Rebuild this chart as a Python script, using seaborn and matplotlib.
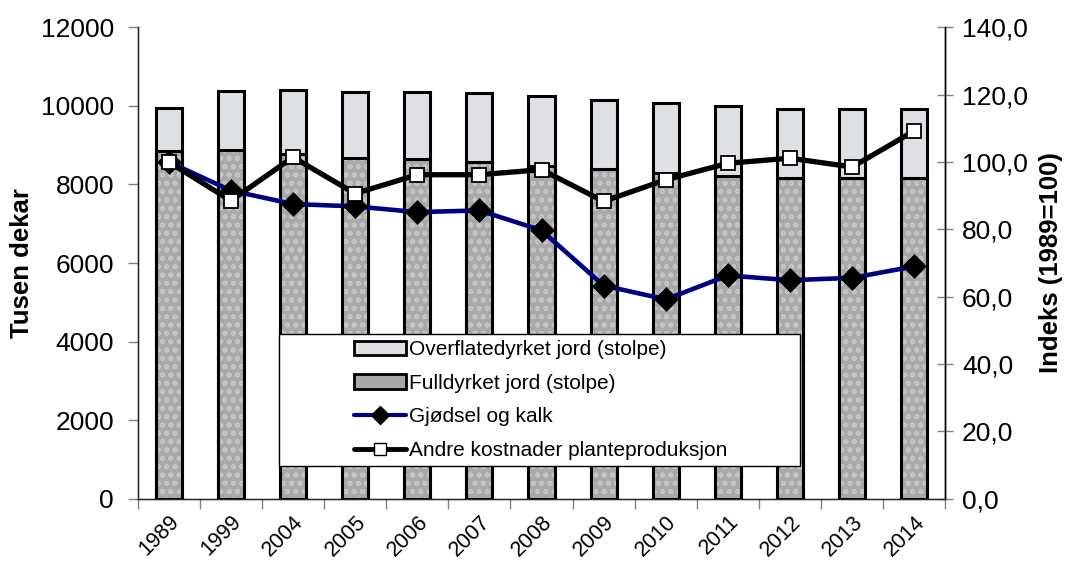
import numpy as np
import pandas as pd
import matplotlib
matplotlib.use("Agg")
import matplotlib.pyplot as plt
import seaborn as sns
from matplotlib.patches import Patch, Rectangle
from matplotlib.lines import Line2D
from matplotlib.ticker import FuncFormatter, FixedLocator

# data
years = ["1989", "1999", "2004", "2005", "2006", "2007", "2008",
         "2009", "2010", "2011", "2012", "2013", "2014"]
fulldyrket = [8860, 8880, 8770, 8670, 8640, 8580, 8480,
              8400, 8290, 8220, 8160, 8160, 8160]
overflatedyrket = [1090, 1500, 1630, 1690, 1700, 1740, 1770,
                   1750, 1770, 1770, 1750, 1750, 1760]
gjodsel = [100.0, 91.5, 87.5, 86.8, 85.1, 85.6, 79.7,
           63.3, 59.2, 66.3, 64.9, 65.6, 69.0]
andre = [100.0, 88.5, 101.4, 90.6, 96.2, 96.2, 97.7,
         88.3, 94.7, 99.6, 101.1, 98.5, 109.2]

df = pd.DataFrame({
    "year": years,
    "full": fulldyrket,
    "total": np.array(fulldyrket) + np.array(overflatedyrket),
    "gjodsel": gjodsel,
    "andre": andre,
})

sns.set_style("white")
plt.rcParams["font.family"] = ["Liberation Sans", "DejaVu Sans"]
plt.rcParams["text.color"] = "black"
plt.rcParams["axes.labelcolor"] = "black"
plt.rcParams["hatch.linewidth"] = 1.2

top_col = "#dfe0e4"
full_col = "#a9a9a9"
navy = "#000080"
bw = 0.42

fig = plt.figure(figsize=(10.67, 5.65), dpi=100)
ax = fig.add_axes([0.129, 0.117, 0.757, 0.835])

# stolper: total (overflatedyrket on top) then fulldyrket over it
sns.barplot(data=df, x="year", y="total", color=top_col, width=bw,
            edgecolor="black", linewidth=2.2, saturation=1, ax=ax)
sns.barplot(data=df, x="year", y="full", color=full_col, width=bw,
            linewidth=0, saturation=1, ax=ax)
# light mottled texture on the fulldyrket part
sns.barplot(data=df, x="year", y="full", fill=False, width=bw,
            edgecolor="#c4c4c4", hatch="oo", linewidth=0, ax=ax)
sns.barplot(data=df, x="year", y="full", fill=False, width=bw,
            edgecolor="black", linewidth=2.2, ax=ax)

ax.set_xlim(-0.5, len(years) - 0.5)
ax.set_ylim(0, 12000)
ax.set_yticks(range(0, 12001, 2000))
ax.set_ylabel("Tusen dekar", fontsize=18.5, fontweight="bold", labelpad=5)
ax.set_xlabel("")
ax.tick_params(axis="y", labelsize=19, direction="out", length=7, width=1,
               color="#808080", labelcolor="black", left=True, pad=10)
ax.tick_params(axis="x", which="major", labelsize=15.5, length=0, pad=9,
               labelcolor="black")
ax.xaxis.set_minor_locator(FixedLocator(np.arange(-0.5, len(years), 1.0)))
ax.tick_params(axis="x", which="minor", direction="out", length=7, width=1,
               color="#808080", bottom=True)
for lab in ax.get_xticklabels():
    lab.set_rotation(45)
    lab.set_ha("right")
    lab.set_rotation_mode("anchor")

for s in ["left", "bottom", "right"]:
    ax.spines[s].set_color("black")
    ax.spines[s].set_linewidth(1)
ax.spines["top"].set_visible(False)

# indekslinjer på høyre akse
ax2 = ax.twinx()
sns.pointplot(data=df, x="year", y="gjodsel", color=navy, markers="D",
              linestyles="-", linewidth=3.3, markersize=10.5,
              markerfacecolor="black", markeredgecolor="black", ax=ax2)
sns.pointplot(data=df, x="year", y="andre", color="black", markers="s",
              linestyles="-", linewidth=3.8, markersize=10,
              markerfacecolor="white", markeredgecolor="black",
              markeredgewidth=1.3, ax=ax2)
ax2.set_xlim(-0.5, len(years) - 0.5)
ax2.set_ylim(0, 140)
ax2.set_yticks(range(0, 141, 20))
ax2.yaxis.set_major_formatter(FuncFormatter(lambda v, p: f"{v:.1f}".replace(".", ",")))
ax2.set_ylabel("Indeks (1989=100)", fontsize=18.5, fontweight="bold", labelpad=8)
ax2.tick_params(axis="y", labelsize=19, direction="inout", length=12, width=1,
                color="#808080", labelcolor="black", right=True, pad=6)
ax2.spines["top"].set_visible(False)
ax2.spines["right"].set_color("black")
ax2.spines["right"].set_linewidth(1)

# legend box
ax2.add_patch(Rectangle((0.175, 0.07), 0.645, 0.279, transform=ax2.transAxes,
                        facecolor="white", edgecolor="black", linewidth=1,
                        zorder=6, clip_on=False))
handles = [
    Patch(facecolor=top_col, edgecolor="black", linewidth=2,
          label="Overflatedyrket jord (stolpe)"),
    Patch(facecolor=full_col, edgecolor="black", linewidth=2,
          label="Fulldyrket jord (stolpe)"),
    Line2D([], [], color=navy, linewidth=3, marker="D", markersize=9,
           markerfacecolor="black", markeredgecolor="black",
           label="Gjødsel og kalk"),
    Line2D([], [], color="black", linewidth=3.5, marker="s", markersize=9,
           markerfacecolor="white", markeredgecolor="black",
           label="Andre kostnader planteproduksjon"),
]
leg = ax2.legend(handles=handles, loc="center left",
                 bbox_to_anchor=(0.268, 0.07 + 0.279 / 2),
                 fontsize=15, frameon=False, handlelength=2.5,
                 handletextpad=0.15, borderpad=0, borderaxespad=0,
                 labelspacing=0.7)
leg.set_zorder(7)

fig.savefig("out.png", dpi=100)
